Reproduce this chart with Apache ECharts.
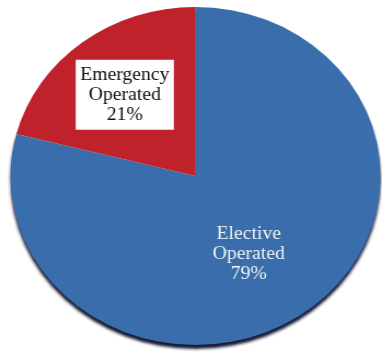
<!DOCTYPE html>
<html>
<head>
<meta charset="utf-8">
<script src="https://cdn.jsdelivr.net/npm/echarts@6/dist/echarts.min.js"></script>
<style>
html,body{margin:0;padding:0;background:#fff;overflow:hidden;}
/* the pie in the picture is a bit wider than tall, so the chart box is stretched */
#main{width:349px;height:354px;transform:scaleX(1.0947);transform-origin:0 0;}
</style>
</head>
<body>
<div id="main"></div>
<script>
var categories = ['Elective Operated', 'Emergency Operated'];
var values = [79, 21];
var colors = ['#3a6dab', '#c0222b'];

var myChart = echarts.init(document.getElementById('main'));

var pieData = [];
for (var i = 0; i < categories.length; i++) {
	pieData.push({
		name: categories[i],
		value: values[i],
		itemStyle: { color: colors[i] }
	});
}
// elective slice: dark shadow under the bottom edge
pieData[0].itemStyle.shadowColor = 'rgba(8,12,40,0.95)';
pieData[0].itemStyle.shadowOffsetY = 4;
pieData[0].itemStyle.shadowBlur = 3;
pieData[0].label = {
	color: '#eef2f7',
	offset: [-5, 9]
};
// emergency slice: label sits in a white box
pieData[1].label = {
	color: '#111',
	backgroundColor: '#fff',
	padding: [5, 4, 5, 4],
	offset: [-11, -12]
};

var option = {
	animation: false,
	series: [{
		type: 'pie',
		center: [178.6, 176],
		radius: [0, 169],
		startAngle: 90,
		clockwise: true,
		label: {
			show: true,
			position: 'inside',
			fontFamily: '"Liberation Serif", "DejaVu Serif", serif',
			fontSize: 18,
			lineHeight: 20,
			align: 'center',
			formatter: function (p) {
				return p.name.split(' ').join('\n') + '\n' + p.value + '%';
			}
		},
		labelLine: { show: false },
		emphasis: { disabled: true },
		data: pieData
	}]
};
myChart.setOption(option);
</script>
</body>
</html>
